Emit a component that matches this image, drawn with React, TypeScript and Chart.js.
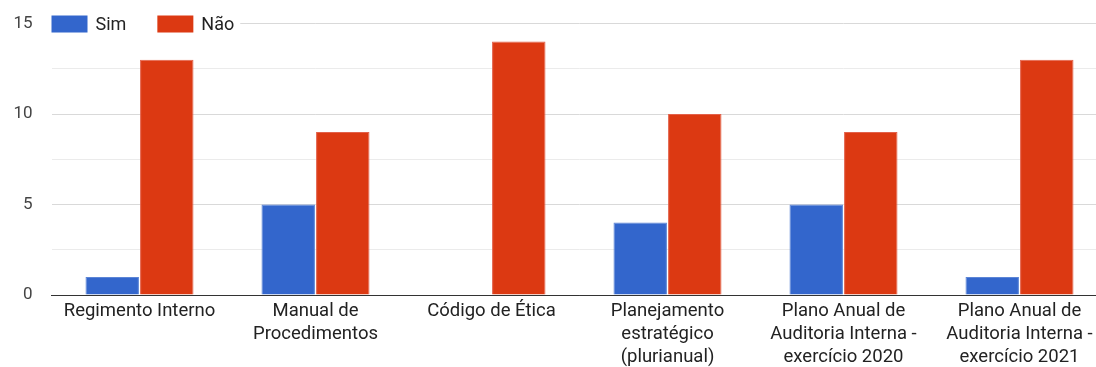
import React, { useEffect, useRef } from "react";
import { Chart, registerables } from "chart.js";

Chart.register(...registerables);

const categories: (string | string[])[] = [
  "Regimento Interno",
  ["Manual de", "Procedimentos"],
  "Código de Ética",
  ["Planejamento", "estratégico", "(plurianual)"],
  ["Plano Anual de", "Auditoria Interna -", "exercício 2020"],
  ["Plano Anual de", "Auditoria Interna -", "exercício 2021"],
];
const seriesNames = ["Sim", "Não"];
const simValues = [1, 5, 0, 4, 5, 1];
const naoValues = [13, 9, 14, 10, 9, 13];
const seriesColors = ["#3366cc", "#dc3912"];
const seriesEdges = ["#5c85d6", "#e3614a"];
const yTickLabels = [0, 5, 10, 15];

const FONT = "Roboto, 'Liberation Sans', Arial, sans-serif";

const legendPlugin = {
  id: "topLegend",
  afterDraw(chart: any) {
    const ctx = chart.ctx;
    const area = chart.chartArea;
    ctx.save();
    ctx.font = `18px ${FONT}`;
    ctx.textBaseline = "middle";
    const y = area.top + 0.5;
    let x = area.left;
    const items = chart.data.datasets.map((d: any) => ({
      label: d.label,
      color: d.backgroundColor,
      w: ctx.measureText(d.label).width,
    }));
    let total = 0;
    items.forEach((it: any, i: number) => {
      total += 36 + 8 + it.w + (i < items.length - 1 ? 31 : 4);
    });
    ctx.fillStyle = "#ffffff";
    ctx.fillRect(x - 2, y - 10, total + 4, 20);
    items.forEach((it: any) => {
      ctx.fillStyle = it.color;
      ctx.fillRect(x, y - 8.5, 36, 17);
      ctx.fillStyle = "#222222";
      ctx.textAlign = "left";
      ctx.fillText(it.label, x + 44, y + 1);
      x += 36 + 8 + it.w + 31;
    });
    ctx.restore();
  },
};

export default function App() {
  const ref = useRef<HTMLCanvasElement>(null);
  useEffect(() => {
    document.body.style.margin = "0";
    const chart = new Chart(ref.current!, {
      type: "bar",
      data: {
        labels: categories,
        datasets: [
          {
            label: seriesNames[0],
            data: simValues,
            backgroundColor: seriesColors[0],
            borderColor: seriesEdges[0],
            borderWidth: 1,
          },
          {
            label: seriesNames[1],
            data: naoValues,
            backgroundColor: seriesColors[1],
            borderColor: seriesEdges[1],
            borderWidth: 1,
          },
        ],
      },
      options: {
        animation: false,
        responsive: false,
        maintainAspectRatio: false,
        layout: { padding: { top: 0, right: 4.5, left: 0, bottom: 0 } },
        datasets: {
          bar: { categoryPercentage: 0.62, barPercentage: 0.98, borderSkipped: "bottom" },
        },
        plugins: { legend: { display: false }, tooltip: { enabled: false } },
        scales: {
          x: {
            grid: { display: false, drawTicks: false },
            border: { display: true, color: "#333333", width: 1 },
            ticks: {
              color: "#222222",
              font: { family: FONT, size: 18.5, lineHeight: 1.25 },
              padding: 5,
              maxRotation: 0,
              autoSkip: false,
            },
            afterFit(scale: any) {
              scale.height = 72;
            },
          },
          y: {
            min: 0,
            max: 15,
            border: { display: false },
            grid: {
              drawTicks: false,
              color: (c: any) =>
                c.tick && c.tick.value === 0
                  ? "#333333"
                  : c.tick && c.tick.value % 5 === 0
                  ? "#d9d9d9"
                  : "#ebebeb",
            },
            ticks: {
              stepSize: 2.5,
              color: "#444444",
              font: { family: FONT, size: 17, lineHeight: 0.53 },
              padding: 19,
              callback: (v: any) => (yTickLabels.includes(Number(v)) ? String(v) : ""),
            },
            afterFit(scale: any) {
              scale.width = 51.5;
            },
          },
        },
      },
      plugins: [legendPlugin],
    });
    return () => chart.destroy();
  }, []);
  return (
    <div style={{ width: 1096, height: 367, overflow: "hidden", position: "relative" }}>
      <canvas ref={ref} width={1112} height={367} style={{ display: "block" }} />
    </div>
  );
}
